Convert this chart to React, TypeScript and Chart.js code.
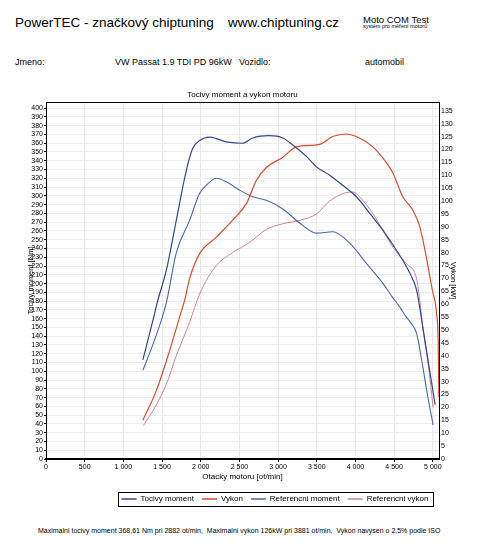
import React, { useEffect, useRef } from "react";
import { Chart, registerables } from "chart.js";

Chart.register(...registerables);

const FONT = 'Arial, "Liberation Sans", Helvetica, sans-serif';

// ---- data ----
const torqueRpm = [1252, 1382, 1446, 1555, 1684, 1814, 1895, 1986, 2115, 2331, 2542, 2671, 2882, 3061, 3190, 3366, 3496, 3667, 3835, 4013, 4185, 4353, 4530, 4702, 4789, 4871, 4961, 5030];
const torqueNm = [113, 158, 181, 215, 272, 329, 354, 363, 367, 361.6, 360, 366, 368.6, 366, 358, 345, 333, 323.6, 312, 299, 280, 261, 238, 212, 193, 150, 100, 62];

const powerRpm = [1252, 1426, 1598, 1727, 1792, 1857, 1986, 2202, 2413, 2590, 2719, 2849, 3061, 3237, 3538, 3706, 3881, 4013, 4224, 4353, 4482, 4612, 4741, 4832, 4918, 4990, 5050, 5070, 5078];
const powerKw = [15, 26.5, 42, 55, 61.5, 70, 79.6, 86, 92.6, 99, 108, 113, 117, 121, 122, 125, 126, 125, 121, 116.7, 111, 101.7, 96.5, 90, 78, 66, 56, 45, 24];

const refTorqueRpm = [1252, 1400, 1555, 1684, 1856, 1986, 2072, 2202, 2331, 2503, 2671, 2849, 3061, 3279, 3496, 3706, 3926, 4142, 4353, 4482, 4572, 4656, 4721, 4789, 4871, 4935, 5004];
const refTorqueNm = [101, 135, 178, 235, 272, 303, 312, 320, 316, 306.5, 299, 295, 285, 269, 257.5, 259, 246, 223, 200.5, 184, 173.5, 162, 154.6, 143.5, 105, 71, 39];

const refPowerRpm = [1260, 1426, 1555, 1684, 1856, 1986, 2202, 2413, 2632, 2849, 3061, 3279, 3496, 3667, 3838, 3969, 4055, 4228, 4357, 4486, 4659, 4789, 4832, 4875, 4939, 5004];
const refPowerKw = [13, 21, 29, 40, 53, 64, 75, 80, 84, 89, 91.2, 92.5, 95, 100, 102.9, 103.5, 101.6, 95, 88.6, 82, 75.7, 70, 61.4, 50, 37, 20];

const seriesLabels = ["Tocivy moment", "Vykon", "Referencni moment", "Referencni vykon"];
const seriesColors = ["#33468a", "#dc4a2c", "#4b66a8", "#c9829c"];

const xTickValues = [0, 500, 1000, 1500, 2000, 2500, 3000, 3500, 4000, 4500, 5000];
const torqueTickValues = Array.from({ length: 41 }, (_, i) => i * 10);
const powerTickValues = Array.from({ length: 28 }, (_, i) => i * 5);

const chartTitle = "Tocivy moment a vykon motoru";
const xTitle = "Otacky motoru [ot/min]";
const yTitle = "Tocivy moment [Nm]";
const y1Title = "Vykon [kW]";

const footerText =
  "Maximalni tocivy moment 368,61 Nm pri 2882 ot/min,  Maximalni vykon 126kW pri 3881 ot/min,  Vykon navysen o 2,5% podle ISO";

function pts(xs: number[], ys: number[]) {
  return xs.map((x, i) => ({ x, y: ys[i] }));
}

function fmtRpm(v: number) {
  if (v >= 1000) return `${Math.floor(v / 1000)} ${String(v % 1000).padStart(3, "0")}`;
  return String(v);
}

const framePlugin = {
  id: "frameTop",
  afterDraw(chart: any) {
    const { ctx, chartArea } = chart;
    ctx.save();
    ctx.strokeStyle = "#000";
    ctx.lineWidth = 1;
    ctx.beginPath();
    ctx.moveTo(chartArea.left, Math.round(chartArea.top) + 0.5);
    ctx.lineTo(chartArea.right, Math.round(chartArea.top) + 0.5);
    ctx.stroke();
    ctx.restore();
  },
};

const legendBoxPlugin = {
  id: "legendBox",
  afterLayout(chart: any) {
    const lg = chart.legend;
    if (lg) {
      lg.left += 35;
      lg.right += 35;
      lg.top += 5;
      lg.bottom += 5;
    }
  },
  afterDraw(chart: any) {
    const lg = chart.legend;
    if (!lg || !lg.legendHitBoxes || !lg.legendHitBoxes.length) return;
    const hb = lg.legendHitBoxes;
    const l = Math.min(...hb.map((h: any) => h.left)) - 4;
    const r = Math.max(...hb.map((h: any) => h.left + h.width)) + 4;
    const t = hb[0].top - 3;
    const b = hb[0].top + hb[0].height + 3;
    const ctx = chart.ctx;
    ctx.save();
    ctx.strokeStyle = "#000";
    ctx.lineWidth = 1;
    ctx.strokeRect(Math.round(l) + 0.5, Math.round(t) + 0.5, Math.round(r - l), Math.round(b - t));
    ctx.restore();
  },
};

function Txt({ x, base, size, children, bold }: any) {
  return (
    <div
      style={{
        position: "absolute",
        left: x,
        top: base - 0.8465 * size,
        fontSize: size,
        lineHeight: `${size}px`,
        whiteSpace: "pre",
        fontWeight: bold ? "bold" : "normal",
        color: "#000",
      }}
    >
      {children}
    </div>
  );
}

export default function App() {
  const canvasRef = useRef<HTMLCanvasElement | null>(null);

  useEffect(() => {
    const canvas = canvasRef.current;
    if (!canvas) return;
    const tickFont = { family: FONT, size: 7 };
    const mk = (i: number, xs: number[], ys: number[], axis: string, w: number) => ({
      label: seriesLabels[i],
      data: pts(xs, ys),
      yAxisID: axis,
      borderColor: seriesColors[i],
      backgroundColor: seriesColors[i],
      borderWidth: w,
      pointRadius: 0,
      fill: false,
      cubicInterpolationMode: "monotone",
    });
    const chart = new Chart(canvas, {
      type: "line",
      data: {
        datasets: [
          mk(0, torqueRpm, torqueNm, "y", 1.2),
          mk(1, powerRpm, powerKw, "y1", 1.2),
          mk(2, refTorqueRpm, refTorqueNm, "y", 1.1),
          mk(3, refPowerRpm, refPowerKw, "y1", 1),
        ],
      } as any,
      options: {
        responsive: false,
        animation: false,
        devicePixelRatio: 1,
        events: [],
        layout: { padding: { bottom: 5 } },
        plugins: {
          title: {
            display: true,
            text: chartTitle,
            fullSize: false,
            color: "#000",
            font: { family: FONT, size: 8, weight: "normal" },
            padding: { top: 5, bottom: 2.4 },
          },
          legend: {
            position: "bottom",
            labels: {
              color: "#000",
              font: { family: FONT, size: 8 },
              boxWidth: 15,
              boxHeight: 1.5,
              padding: 8,
              generateLabels: (c: any) =>
                (Chart.defaults.plugins.legend.labels.generateLabels as any)(c).map((l: any) => ({ ...l, lineWidth: 0 })),
            },
          },
          tooltip: { enabled: false },
        },
        scales: {
          x: {
            type: "linear",
            min: 0,
            max: 5080,
            afterBuildTicks: (s: any) => {
              s.ticks = xTickValues.map((value) => ({ value }));
            },
            afterFit: (s: any) => {
              s.height = 23;
            },
            ticks: {
              color: "#000",
              font: tickFont,
              maxRotation: 0,
              autoSkip: false,
              padding: 1,
              callback: (v: any) => fmtRpm(Number(v)),
            },
            grid: { color: "#e8e8e8", lineWidth: 1, tickLength: 3, tickColor: "#000" },
            border: { color: "#000", width: 2 },
            title: { display: true, text: xTitle, color: "#000", font: { family: FONT, size: 8 }, padding: 0 },
          },
          y: {
            position: "left",
            min: 0,
            max: 407,
            afterBuildTicks: (s: any) => {
              s.ticks = torqueTickValues.map((value) => ({ value }));
            },
            afterFit: (s: any) => {
              s.width = 46;
            },
            ticks: { color: "#000", font: tickFont, padding: 1, autoSkip: false, callback: (v: any) => String(v) },
            grid: { color: "#eeeeee", lineWidth: 1, tickLength: 2, tickColor: "#000" },
            border: { color: "#000", width: 1 },
            title: {
              display: true,
              text: yTitle,
              color: "#000",
              font: { family: FONT, size: 7.5 },
              padding: { top: 26, bottom: 0 },
            },
          },
          y1: {
            position: "right",
            min: 0,
            max: 138.4,
            afterBuildTicks: (s: any) => {
              s.ticks = powerTickValues.map((value) => ({ value }));
            },
            afterFit: (s: any) => {
              s.width = 41;
            },
            ticks: { color: "#000", font: tickFont, padding: 2, autoSkip: false, callback: (v: any) => String(v) },
            grid: { drawOnChartArea: false, drawTicks: false, tickLength: 0 },
            border: { color: "#000", width: 1 },
            title: {
              display: true,
              text: y1Title,
              color: "#000",
              font: { family: FONT, size: 7.5 },
              padding: { top: 22.5, bottom: 0 },
            },
          },
        },
      } as any,
      plugins: [framePlugin, legendBoxPlugin],
    });
    return () => chart.destroy();
  }, []);

  return (
    <div
      style={{
        position: "absolute",
        left: 0,
        top: 0,
        width: 480,
        height: 551,
        background: "#fff",
        fontFamily: FONT,
        overflow: "hidden",
      }}
    >
      <Txt x={15} base={27.3} size={13.5}>PowerTEC - značkový chiptuning</Txt>
      <Txt x={228} base={27.3} size={13.5}>www.chiptuning.cz</Txt>
      <Txt x={363} base={22.7} size={9.5}>Moto COM Test</Txt>
      <Txt x={363} base={29} size={5.5}>systém pro měření motorů</Txt>
      <Txt x={15} base={65.5} size={9}>Jmeno:</Txt>
      <Txt x={115} base={65.5} size={9}>VW Passat 1.9 TDI PD 96kW</Txt>
      <Txt x={239} base={65.5} size={9}>Vozidlo:</Txt>
      <Txt x={365} base={65.5} size={9}>automobil</Txt>
      <div style={{ position: "absolute", left: 0, top: 85, width: 480, height: 428 }}>
        <canvas ref={canvasRef} width={480} height={428} style={{ display: "block", width: 480, height: 428 }} />
      </div>
      <Txt x={38} base={533} size={7}>{footerText}</Txt>
    </div>
  );
}
